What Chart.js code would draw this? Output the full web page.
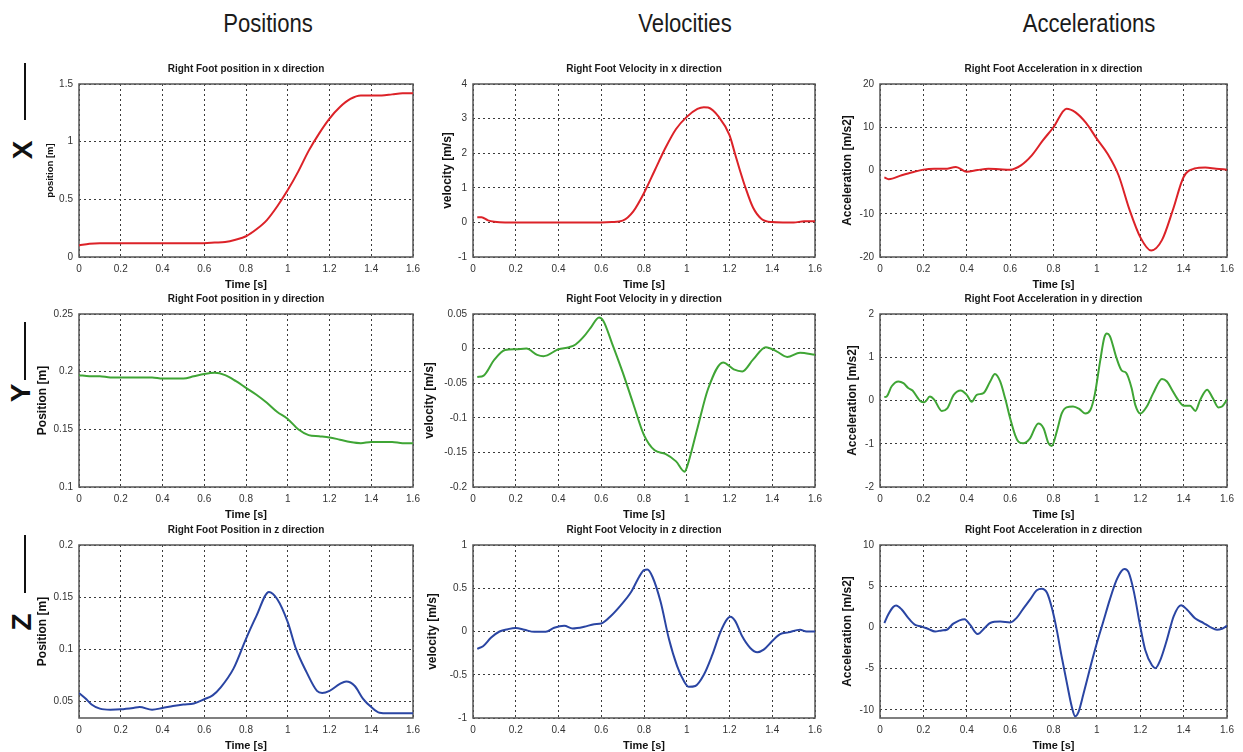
<!DOCTYPE html>
<html>
<head>
<meta charset="utf-8">
<title>Right foot kinematics</title>
<script src="https://cdn.jsdelivr.net/npm/chart.js@4.4.0/dist/chart.umd.min.js"></script>
<style>
    html, body { margin: 0; padding: 0; background: #fff; }
    #page { position: relative; width: 1243px; height: 752px; overflow: hidden; font-family: 'Liberation Sans', Arial, sans-serif; }
    .head { position: absolute; top: 8px; font-size: 26px; line-height: 30px; color: #1b1b1b; white-space: nowrap; transform: translateX(-50%) scaleX(0.85); }
    .rowlab { position: absolute; font-size: 28px; font-weight: bold; line-height: 28px; color: #111; transform: translate(-50%, -50%) rotate(-90deg); }
    .bar { position: absolute; left: 24px; width: 2px; background: #111; }
    .panel { position: absolute; }
</style>
</head>
<body>
<div id="page">
    <div class="head" style="left:268px">Positions</div>
    <div class="head" style="left:685px">Velocities</div>
    <div class="head" style="left:1089px">Accelerations</div>
    <div class="bar" style="top:63px;height:57px"></div>
    <div class="rowlab" style="left:23px;top:150px">X</div>
    <div class="bar" style="top:322px;height:58px"></div>
    <div class="rowlab" style="left:21px;top:393px">Y</div>
    <div class="bar" style="top:535px;height:58px"></div>
    <div class="rowlab" style="left:22px;top:622px">Z</div>
</div>
<script>
// --- time axis ---
const X_TICKS = [0, 0.2, 0.4, 0.6, 0.8, 1, 1.2, 1.4, 1.6];

// --- X direction ---
const POS_X_T = [0, 0.05, 0.1, 0.15, 0.2, 0.25, 0.3, 0.35, 0.4, 0.45, 0.5, 0.55, 0.6, 0.65, 0.7, 0.75, 0.8, 0.85, 0.9, 0.95, 1, 1.05, 1.1, 1.15, 1.2, 1.25, 1.3, 1.35, 1.4, 1.45, 1.5, 1.55, 1.6];
const POS_X_V = [0.10, 0.115, 0.12, 0.12, 0.12, 0.12, 0.12, 0.12, 0.12, 0.12, 0.12, 0.12, 0.12, 0.125, 0.13, 0.15, 0.18, 0.24, 0.32, 0.44, 0.58, 0.74, 0.92, 1.07, 1.2, 1.3, 1.37, 1.4, 1.4, 1.4, 1.41, 1.42, 1.42];
const POS_X_TICKS = [0, 0.5, 1, 1.5];

const VEL_X_T = [0.02, 0.04, 0.07, 0.1, 0.15, 0.2, 0.25, 0.3, 0.35, 0.4, 0.45, 0.5, 0.55, 0.6, 0.65, 0.7, 0.75, 0.8, 0.85, 0.9, 0.95, 1, 1.05, 1.08, 1.1, 1.15, 1.2, 1.225, 1.25, 1.275, 1.31, 1.35, 1.4, 1.45, 1.5, 1.55, 1.6];
const VEL_X_V = [0.15, 0.15, 0.06, 0.02, 0, 0, 0, 0, 0, 0, 0, 0, 0, 0, 0.01, 0.05, 0.32, 0.85, 1.5, 2.15, 2.7, 3.05, 3.28, 3.33, 3.32, 3.05, 2.52, 2.0, 1.48, 1.0, 0.43, 0.1, 0.01, 0, 0, 0.03, 0.03];
const VEL_X_TICKS = [-1, 0, 1, 2, 3, 4];

const ACC_X_T = [0.02, 0.04, 0.1, 0.15, 0.2, 0.25, 0.3, 0.35, 0.4, 0.45, 0.5, 0.55, 0.6, 0.65, 0.7, 0.75, 0.8, 0.86, 0.9, 0.95, 1, 1.05, 1.1, 1.15, 1.2, 1.25, 1.3, 1.35, 1.4, 1.45, 1.5, 1.55, 1.6];
const ACC_X_V = [-1.6, -2.0, -1.1, -0.4, 0.2, 0.4, 0.4, 0.8, -0.3, 0.1, 0.4, 0.3, 0.2, 1.2, 3.5, 6.9, 10, 14.3, 13.5, 11, 7.3, 3.8, -1.1, -9, -15.4, -18.5, -16.1, -9.2, -1.5, 0.45, 0.7, 0.4, 0.2];
const ACC_X_TICKS = [-20, -10, 0, 10, 20];

// --- Y direction ---
const POS_Y_T = POS_X_T;
const POS_Y_V = [0.197, 0.196, 0.196, 0.195, 0.195, 0.195, 0.195, 0.195, 0.194, 0.194, 0.194, 0.196, 0.198, 0.199, 0.197, 0.192, 0.186, 0.180, 0.173, 0.165, 0.159, 0.150, 0.145, 0.144, 0.143, 0.141, 0.139, 0.138, 0.139, 0.139, 0.139, 0.138, 0.138];
const POS_Y_TICKS = [0.1, 0.15, 0.2, 0.25];

const VEL_Y_T = [0.02, 0.05, 0.1, 0.15, 0.2, 0.25, 0.3, 0.33, 0.4, 0.45, 0.48, 0.52, 0.55, 0.59, 0.61, 0.65, 0.7, 0.75, 0.8, 0.85, 0.9, 0.95, 0.99, 1, 1.05, 1.1, 1.17, 1.22, 1.26, 1.31, 1.37, 1.42, 1.47, 1.53, 1.6];
const VEL_Y_V = [-0.041, -0.039, -0.016, -0.002, -0.001, 0, -0.009, -0.011, -0.001, 0.002, 0.006, 0.018, 0.03, 0.045, 0.04, 0.008, -0.034, -0.08, -0.125, -0.147, -0.152, -0.163, -0.178, -0.172, -0.115, -0.058, -0.02, -0.03, -0.033, -0.016, 0.002, -0.004, -0.012, -0.006, -0.009];
const VEL_Y_TICKS = [-0.2, -0.15, -0.1, -0.05, 0, 0.05];

const ACC_Y_T = [0.02, 0.03, 0.054, 0.085, 0.108, 0.13, 0.15, 0.185, 0.205, 0.23, 0.25, 0.285, 0.31, 0.34, 0.372, 0.4, 0.423, 0.446, 0.477, 0.508, 0.53, 0.554, 0.577, 0.6, 0.623, 0.638, 0.66, 0.69, 0.73, 0.754, 0.777, 0.792, 0.815, 0.838, 0.86, 0.89, 0.92, 0.946, 0.97, 0.99, 1.015, 1.034, 1.046, 1.06, 1.09, 1.115, 1.135, 1.16, 1.177, 1.2, 1.23, 1.26, 1.3, 1.323, 1.346, 1.37, 1.4, 1.43, 1.454, 1.477, 1.508, 1.535, 1.56, 1.577, 1.6];
const ACC_Y_V = [0.08, 0.09, 0.33, 0.44, 0.40, 0.29, 0.23, -0.01, -0.04, 0.09, 0.02, -0.24, -0.18, 0.13, 0.23, 0.13, -0.03, 0.13, 0.17, 0.44, 0.61, 0.44, 0.05, -0.41, -0.8, -0.95, -0.99, -0.89, -0.53, -0.64, -0.99, -1.05, -0.72, -0.3, -0.16, -0.14, -0.2, -0.3, -0.22, 0.13, 0.91, 1.45, 1.55, 1.49, 0.99, 0.69, 0.64, 0.29, -0.1, -0.3, -0.14, 0.17, 0.5, 0.44, 0.25, 0.05, -0.12, -0.12, -0.24, 0.02, 0.25, 0.05, -0.16, -0.14, 0.02];
const ACC_Y_TICKS = [-2, -1, 0, 1, 2];

// --- Z direction ---
const POS_Z_T = [0, 0.03, 0.06, 0.1, 0.15, 0.2, 0.26, 0.29, 0.35, 0.4, 0.45, 0.5, 0.55, 0.6, 0.64, 0.68, 0.74, 0.8, 0.85, 0.91, 0.95, 1, 1.04, 1.09, 1.14, 1.165, 1.2, 1.25, 1.28, 1.32, 1.36, 1.4, 1.44, 1.48, 1.6];
const POS_Z_V = [0.058, 0.053, 0.047, 0.043, 0.042, 0.0423, 0.0436, 0.0445, 0.042, 0.0436, 0.0455, 0.047, 0.048, 0.052, 0.0557, 0.0637, 0.0814, 0.110, 0.132, 0.155, 0.148, 0.126, 0.1, 0.078, 0.06, 0.058, 0.06, 0.0667, 0.069, 0.065, 0.0527, 0.0445, 0.039, 0.0385, 0.0385];
const POS_Z_TICKS = [0.05, 0.1, 0.15, 0.2];

const VEL_Z_T = [0.02, 0.047, 0.085, 0.124, 0.163, 0.2, 0.24, 0.287, 0.34, 0.38, 0.427, 0.466, 0.52, 0.567, 0.6, 0.645, 0.69, 0.738, 0.777, 0.8, 0.816, 0.84, 0.878, 0.917, 0.955, 0.986, 1.01, 1.04, 1.08, 1.118, 1.157, 1.188, 1.204, 1.227, 1.258, 1.297, 1.33, 1.36, 1.4, 1.437, 1.476, 1.53, 1.56, 1.6];
const VEL_Z_V = [-0.2, -0.17, -0.07, 0, 0.027, 0.04, 0.02, -0.004, -0.004, 0.043, 0.066, 0.035, 0.054, 0.085, 0.093, 0.18, 0.3, 0.45, 0.63, 0.71, 0.716, 0.63, 0.34, -0.09, -0.4, -0.57, -0.64, -0.63, -0.5, -0.28, -0.01, 0.14, 0.17, 0.12, -0.05, -0.19, -0.24, -0.21, -0.11, -0.03, -0.01, 0.02, 0, 0];
const VEL_Z_TICKS = [-1, -0.5, 0, 0.5, 1];

const ACC_Z_T = [0.02, 0.038, 0.062, 0.074, 0.1, 0.13, 0.16, 0.19, 0.223, 0.254, 0.285, 0.308, 0.338, 0.39, 0.415, 0.45, 0.485, 0.508, 0.554, 0.6, 0.63, 0.66, 0.69, 0.723, 0.746, 0.77, 0.792, 0.815, 0.838, 0.862, 0.885, 0.9, 0.915, 0.938, 0.97, 1, 1.03, 1.06, 1.09, 1.115, 1.128, 1.146, 1.17, 1.2, 1.223, 1.254, 1.27, 1.292, 1.323, 1.354, 1.388, 1.415, 1.454, 1.492, 1.523, 1.554, 1.577, 1.6];
const ACC_Z_V = [0.53, 1.56, 2.5, 2.66, 2.17, 1.15, 0.33, 0.12, -0.2, -0.49, -0.37, -0.29, 0.45, 1.0, 0.33, -0.8, 0, 0.53, 0.7, 0.6, 1.15, 2.25, 3.3, 4.5, 4.7, 4.2, 2.4, -0.3, -3.6, -6.8, -9.7, -10.8, -10.3, -8.1, -4.8, -1.9, 0.74, 3.4, 5.7, 6.9, 7.1, 6.7, 4.4, 0.12, -2.75, -4.6, -4.95, -4.0, -1.5, 1.35, 2.7, 2.17, 1.07, 0.53, 0.04, -0.29, -0.16, 0.2];
const ACC_Z_TICKS = [-10, -5, 0, 5, 10];

// --- layout of the 3x3 grid (plot-area edges in px) ---
const COL_LEFT = [79, 473, 880];
const COL_RIGHT = [413, 815, 1227];
const ROW_TOP = [84, 314, 545];
const ROW_BOTTOM = [257, 487, 718];
const ROW_COLOR = ['#dc2228', '#3fa535', '#2a45a3'];

const Y_AXIS_W = 60, X_AXIS_H = 36, TITLE_H = 21, PAD_RIGHT = 14;

const panels = [
    { row: 0, col: 0, title: 'Right Foot position in x direction', yTitle: 'position [m]', t: POS_X_T, v: POS_X_V, yMin: 0, yMax: 1.5, yTicks: POS_X_TICKS, yTitleX: 50, yTitleSize: 9.5 },
    { row: 0, col: 1, title: 'Right Foot Velocity in x direction', yTitle: 'velocity [m/s]', t: VEL_X_T, v: VEL_X_V, yMin: -1, yMax: 4, yTicks: VEL_X_TICKS, yTitleX: 448, yTitleSize: 12 },
    { row: 0, col: 2, title: 'Right Foot Acceleration in x direction', yTitle: 'Acceleration [m/s2]', t: ACC_X_T, v: ACC_X_V, yMin: -20, yMax: 20, yTicks: ACC_X_TICKS, yTitleX: 848, yTitleSize: 12 },
    { row: 1, col: 0, title: 'Right Foot position in y direction', yTitle: 'Position [m]', t: POS_Y_T, v: POS_Y_V, yMin: 0.1, yMax: 0.25, yTicks: POS_Y_TICKS, yTitleX: 43, yTitleSize: 12 },
    { row: 1, col: 1, title: 'Right Foot Velocity in y direction', yTitle: 'velocity [m/s]', t: VEL_Y_T, v: VEL_Y_V, yMin: -0.2, yMax: 0.05, yTicks: VEL_Y_TICKS, yTitleX: 430, yTitleSize: 12 },
    { row: 1, col: 2, title: 'Right Foot Acceleration in y direction', yTitle: 'Acceleration [m/s2]', t: ACC_Y_T, v: ACC_Y_V, yMin: -2, yMax: 2, yTicks: ACC_Y_TICKS, yTitleX: 853, yTitleSize: 12 },
    { row: 2, col: 0, title: 'Right Foot Position in z direction', yTitle: 'Position [m]', t: POS_Z_T, v: POS_Z_V, yMin: 0.034, yMax: 0.2, yTicks: POS_Z_TICKS, yTitleX: 43, yTitleSize: 12 },
    { row: 2, col: 1, title: 'Right Foot Velocity in z direction', yTitle: 'velocity [m/s]', t: VEL_Z_T, v: VEL_Z_V, yMin: -1, yMax: 1, yTicks: VEL_Z_TICKS, yTitleX: 433, yTitleSize: 12 },
    { row: 2, col: 2, title: 'Right Foot Acceleration in z direction', yTitle: 'Acceleration [m/s2]', t: ACC_Z_T, v: ACC_Z_V, yMin: -11, yMax: 10, yTicks: ACC_Z_TICKS, yTitleX: 848, yTitleSize: 12 }
];

Chart.defaults.font.family = "'Liberation Sans', Arial, sans-serif";

// box round the plot area, like the matlab axes
const frame = {
    id: 'frame',
    beforeDatasetsDraw(chart) {
        const { ctx, chartArea: a } = chart;
        ctx.save();
        ctx.strokeStyle = '#555';
        ctx.lineWidth = 1.5;
        ctx.strokeRect(a.left, a.top, a.right - a.left, a.bottom - a.top);
        ctx.restore();
    }
};

const gridOpts = { color: '#3a3a3a', lineWidth: 1, drawTicks: false };
const tickFont = { size: 10 };

function makePanel(p) {
    const L = COL_LEFT[p.col], R = COL_RIGHT[p.col];
    const T = ROW_TOP[p.row], B = ROW_BOTTOM[p.row];
    const left = L - Y_AXIS_W;

    const box = document.createElement('div');
    box.className = 'panel';
    box.style.left = left + 'px';
    box.style.top = (T - TITLE_H) + 'px';
    box.style.width = (R - L + Y_AXIS_W + PAD_RIGHT) + 'px';
    box.style.height = (B - T + TITLE_H + X_AXIS_H) + 'px';
    const canvas = document.createElement('canvas');
    box.appendChild(canvas);
    document.getElementById('page').appendChild(box);

    new Chart(canvas, {
        type: 'line',
        data: {
            datasets: [{
                data: p.t.map((x, i) => ({ x: x, y: p.v[i] })),
                borderColor: ROW_COLOR[p.row],
                borderWidth: 2,
                pointRadius: 0,
                cubicInterpolationMode: 'monotone',
                fill: false
            }]
        },
        options: {
            animation: false,
            responsive: true,
            maintainAspectRatio: false,
            layout: { padding: { left: 0, top: 0, right: PAD_RIGHT, bottom: 0 } },
            plugins: {
                legend: { display: false },
                tooltip: { enabled: false },
                title: {
                    display: true,
                    text: p.title,
                    fullSize: false,
                    color: '#1a1a1a',
                    font: { size: 10, weight: 'bold', lineHeight: 1.2 },
                    padding: { top: 0, bottom: TITLE_H - 12 }
                }
            },
            scales: {
                x: {
                    type: 'linear',
                    min: 0,
                    max: 1.6,
                    afterBuildTicks: s => { s.ticks = X_TICKS.map(v => ({ value: v })); },
                    afterFit: s => { s.height = X_AXIS_H; },
                    ticks: { callback: v => String(v), color: '#333', font: tickFont, padding: 6, maxRotation: 0, autoSkip: false },
                    grid: gridOpts,
                    border: { display: false, dash: [2, 3] },
                    title: { display: true, text: 'Time [s]', color: '#111', font: { size: 11, weight: 'bold', lineHeight: 1.2 }, padding: { top: 0, bottom: 1 } }
                },
                y: {
                    min: p.yMin,
                    max: p.yMax,
                    afterBuildTicks: s => { s.ticks = p.yTicks.map(v => ({ value: v })); },
                    afterFit: s => { s.width = Y_AXIS_W; },
                    ticks: { callback: v => String(v), color: '#333', font: tickFont, padding: 6, autoSkip: false },
                    grid: gridOpts,
                    border: { display: false, dash: [2, 3] },
                    title: {
                        display: true,
                        text: p.yTitle,
                        color: '#111',
                        font: { size: p.yTitleSize, weight: 'bold', lineHeight: 1.2 },
                        padding: { top: p.yTitleX - left - p.yTitleSize * 0.6, bottom: 0 }
                    }
                }
            }
        },
        plugins: [frame]
    });
}

panels.forEach(makePanel);
</script>
</body>
</html>
